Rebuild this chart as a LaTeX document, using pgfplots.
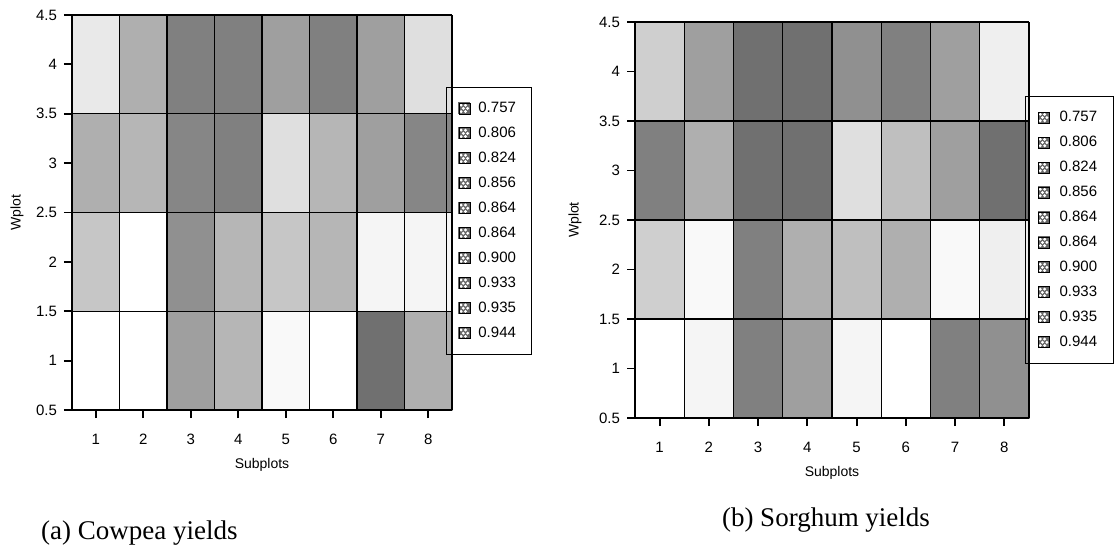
\documentclass[border=0pt]{standalone}
\usepackage{fontspec}
\setmainfont{Liberation Sans}
\newfontfamily\capfont{Liberation Serif}
\usepackage{pgfplots}
\usepackage{pgfplotstable}
\pgfplotsset{compat=1.18}

% shade of each cell (0 = white, 5 = darkest stipple), rows y=1..4, columns 1..8
\pgfplotstableread{
x y c
1 1 0.0
2 1 0.0
3 1 3.0
4 1 2.3
5 1 0.2
6 1 0.0
7 1 4.5
8 1 2.5
1 2 1.8
2 2 0.0
3 2 3.5
4 2 2.3
5 2 1.8
6 2 2.3
7 2 0.3
8 2 0.3
1 3 2.5
2 3 2.3
3 3 3.8
4 3 4.0
5 3 1.0
6 3 2.3
7 3 3.0
8 3 3.8
1 4 0.7
2 4 2.5
3 4 4.0
4 4 4.0
5 4 3.0
6 4 4.0
7 4 3.0
8 4 1.0
}\cowpea

\pgfplotstableread{
x y c
1 1 0.0
2 1 0.3
3 1 4.0
4 1 3.0
5 1 0.3
6 1 0.0
7 1 4.0
8 1 3.5
1 2 1.5
2 2 0.2
3 2 4.0
4 2 2.5
5 2 2.0
6 2 2.5
7 2 0.2
8 2 0.5
1 3 4.0
2 3 2.5
3 3 4.5
4 3 4.5
5 3 1.0
6 3 2.0
7 3 3.0
8 3 4.5
1 4 1.5
2 4 3.0
3 4 4.5
4 4 4.5
5 4 3.5
6 4 4.0
7 4 3.0
8 4 0.5
}\sorghum

\pgfplotsset{
  yieldmap/.style={
    scale only axis,
    xmin=0.5, xmax=8.5, ymin=0.5, ymax=4.5,
    xtick={1,...,8}, ytick={0.5,1,1.5,2,2.5,3,3.5,4,4.5},
    axis x line*=bottom, axis y line*=left,
    axis line style={-, line width=0.9pt},
    tick align=outside, major tick length=4pt,
    tick style={line width=0.9pt, black},
    % cell borders
    extra x ticks={1.5,2.5,3.5,4.5,5.5,6.5,7.5,8.5}, extra x tick labels={},
    extra y ticks={1.5,2.5,3.5,4.5}, extra y tick labels={},
    extra tick style={grid=major, major tick length=0pt,
      major grid style={black, line width=0.7pt}},
    axis on top,
    /pgf/number format/assume math mode=true,
    ticklabel style={font=\fontsize{7.5}{8}\selectfont},
    xticklabel style={yshift=-4.5pt},
    label style={font=\fontsize{7}{8}\selectfont},
    xlabel={Subplots}, ylabel={Wplot},
    xlabel style={at={(rel axis cs:0.5,0)}, anchor=center, yshift=-27.5pt},
    ylabel style={at={(rel axis cs:0,0.5)}, anchor=center},
    colormap={gw}{color=(white) color=(black!62)},
    point meta min=0, point meta max=5,
    clip=false,
    legend style={draw=black, line width=0.5pt, fill=none,
      font=\fontsize{7.5}{8}\selectfont,
      inner xsep=6pt, inner ysep=5pt, row sep=1.5pt, column sep=2pt},
    legend cell align=left,
    % stippled swatch: grey square with white dots
    legend image code/.code={
      \begin{scope}[yshift=-5.5pt]
      \fill[black!60] (0pt,-2.75pt) rectangle (5.5pt,2.75pt);
      \fill[white] (1.1pt,-1.6pt) circle (0.45pt) (3.3pt,-1.6pt) circle (0.45pt)
        (2.2pt,0pt) circle (0.45pt) (4.4pt,0pt) circle (0.45pt)
        (1.1pt,1.6pt) circle (0.45pt) (3.3pt,1.6pt) circle (0.45pt);
      \draw[black, line width=0.4pt] (0pt,-2.75pt) rectangle (5.5pt,2.75pt);
      \end{scope}},
  },
  % one cell per point, centred on it (like matrix plot, but y upwards)
  cells/.style={surf, mesh input=image, shader=flat corner,
    mesh/cols=8, point meta=explicit, forget plot},
}

\begin{document}
\begin{tikzpicture}
\useasboundingbox (0,0) rectangle (559.5pt,274pt);

% (a) cowpea
\begin{axis}[yieldmap, at={(36pt,69pt)}, anchor=south west,
  width=190pt, height=197.5pt,
  ylabel style={yshift=27.5pt},
  legend style={at={(0.984,0.818)}, anchor=north west}]
\addplot[cells] table[x=x, y=y, meta=c] {\cowpea};
\addlegendimage{black}\addlegendentry{0.757}
\addlegendimage{black}\addlegendentry{0.806}
\addlegendimage{black}\addlegendentry{0.824}
\addlegendimage{black}\addlegendentry{0.856}
\addlegendimage{black}\addlegendentry{0.864}
\addlegendimage{black}\addlegendentry{0.864}
\addlegendimage{black}\addlegendentry{0.900}
\addlegendimage{black}\addlegendentry{0.933}
\addlegendimage{black}\addlegendentry{0.935}
\addlegendimage{black}\addlegendentry{0.944}
\end{axis}

% (b) sorghum
\begin{axis}[yieldmap, at={(317.5pt,65pt)}, anchor=south west,
  width=197pt, height=198pt,
  ylabel style={yshift=30pt},
  legend style={at={(0.99,0.813)}, anchor=north west, column sep=3pt}]
\addplot[cells] table[x=x, y=y, meta=c] {\sorghum};
\addlegendimage{black}\addlegendentry{0.757}
\addlegendimage{black}\addlegendentry{0.806}
\addlegendimage{black}\addlegendentry{0.824}
\addlegendimage{black}\addlegendentry{0.856}
\addlegendimage{black}\addlegendentry{0.864}
\addlegendimage{black}\addlegendentry{0.864}
\addlegendimage{black}\addlegendentry{0.900}
\addlegendimage{black}\addlegendentry{0.933}
\addlegendimage{black}\addlegendentry{0.935}
\addlegendimage{black}\addlegendentry{0.944}
\end{axis}

\node[font=\capfont\fontsize{13.5}{15}\selectfont, anchor=west] at (17pt,7.5pt) {(a) Cowpea yields};
\node[font=\capfont\fontsize{13.5}{15}\selectfont, anchor=center] at (413pt,14pt) {(b) Sorghum yields};
\end{tikzpicture}
\end{document}
